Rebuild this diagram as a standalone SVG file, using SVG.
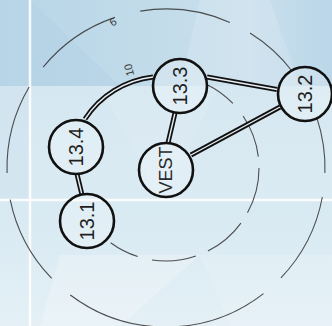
<svg xmlns="http://www.w3.org/2000/svg" width="332" height="326" viewBox="0 0 332 326">
<defs>
<linearGradient id="topband" x1="0" y1="0" x2="1" y2="0">
<stop offset="0" stop-color="#b7d5e7"/>
<stop offset="0.5" stop-color="#c3dcea"/>
<stop offset="0.75" stop-color="#cbe1ed"/>
<stop offset="1" stop-color="#bad6e8"/>
</linearGradient>
<linearGradient id="midband" x1="0" y1="0" x2="0" y2="1">
<stop offset="0" stop-color="#d5e7f1"/>
<stop offset="1" stop-color="#dbebf3"/>
</linearGradient>
<linearGradient id="lowband" x1="0" y1="0" x2="0" y2="1">
<stop offset="0" stop-color="#d7e9f2"/>
<stop offset="1" stop-color="#e4f0f6"/>
</linearGradient>
<style>
.ring{fill:none;stroke:#333;stroke-width:1.1;opacity:0.85}
.road-o{fill:none;stroke:#111;stroke-width:5;stroke-linecap:butt}
.road-i{fill:none;stroke:#e6eef3;stroke-width:1.4;stroke-linecap:butt}
.node circle{fill:#ffffff;fill-opacity:0.22;stroke:#111;stroke-width:2.6}
.node text{font-family:"Liberation Sans",Arial,sans-serif;font-size:20px;fill:#1e1e1e;text-anchor:middle}
.lbl{font-family:"Liberation Sans",Arial,sans-serif;font-size:11px;fill:#3a3a3a;text-anchor:middle}
</style>
</defs>
<g id="background">
<rect x="0" y="0" width="332" height="326" fill="#d8e9f2"/>
<rect x="0" y="0" width="332" height="86" fill="url(#topband)"/>
<rect x="0" y="86" width="332" height="114" fill="url(#midband)"/>
<rect x="0" y="200" width="332" height="126" fill="url(#lowband)"/>
<polygon points="30,0 30,86 120,86" fill="#b4d2e5" opacity="0.5"/>
<polygon points="200,0 270,0 300,86 180,86" fill="#ffffff" opacity="0.12"/>
<polygon points="0,86 30,86 30,200 0,200" fill="#cfe3ef" opacity="0.6"/>
<polygon points="100,86 220,86 160,200" fill="#ffffff" opacity="0.1"/>
<polygon points="60,255 200,255 120,326 40,326" fill="#ffffff" opacity="0.22"/>
<polygon points="200,255 332,255 332,326 230,326" fill="#ffffff" opacity="0.12"/>
<line x1="30" y1="0" x2="30" y2="326" stroke="#ffffff" stroke-width="2.5" opacity="0.9"/>
<line x1="0" y1="200" x2="332" y2="200" stroke="#ffffff" stroke-width="2.5" opacity="0.9"/>
</g>
<g id="rings">
<path class="ring" d="M7.08,172.99 A159,159 0 0 1 29.14,87.06"/>
<path class="ring" d="M43.16,67.06 A159,159 0 0 1 115.02,17.39"/>
<path class="ring" d="M140.31,11.09 A159,159 0 0 1 229.91,22.41"/>
<path class="ring" d="M250.02,33.01 A159,159 0 0 1 292.14,71.21"/>
<path class="ring" d="M316.78,117.55 A159,159 0 0 1 324.92,172.99"/>
<path class="ring" d="M322.34,196.98 A159,159 0 0 1 280.95,277.85"/>
<path class="ring" d="M263.49,293.61 A159,159 0 0 1 70.31,294.98"/>
<path class="ring" d="M51.63,278.45 A159,159 0 0 1 10.19,199.70"/>
<path class="ring" d="M206.77,84.41 A93,93 0 0 1 232.90,103.40"/>
<path class="ring" d="M243.10,116.00 A93,93 0 0 1 258.31,156.67"/>
<path class="ring" d="M259,168 A93,93 0 0 1 247.50,212.80"/>
<path class="ring" d="M240.95,223.06 A93,93 0 0 1 207.93,251.01"/>
<path class="ring" d="M195.97,256.04 A93,93 0 0 1 151.93,259.93"/>
<path class="ring" d="M137.73,256.60 A93,93 0 0 1 110.68,242.76"/>
<text class="lbl" x="113" y="22" dy="0.35em" transform="rotate(-30 113 22)">6</text>
<text class="lbl" x="129" y="70" dy="0.35em" transform="rotate(-105 129 70)">10</text>
</g>
<g id="connectors">
<path class="road-o" d="M207,77 L277,89.5"/>
<path class="road-i" d="M207,77 L277,89.5"/>
<path class="road-o" d="M191,155 L280,107"/>
<path class="road-i" d="M191,155 L280,107"/>
<path class="road-o" d="M175,113 L168,143"/>
<path class="road-i" d="M175,113 L168,143"/>
<path class="road-o" d="M77,174 L82,195"/>
<path class="road-i" d="M77,174 L82,195"/>
<path class="road-o" d="M85,119 A94,94 0 0 1 153,77"/>
<path class="road-i" d="M85,119 A94,94 0 0 1 153,77"/>
</g>
<g id="node-13-3" class="node">
<circle cx="180" cy="86" r="27"/>
<text x="180" y="86" dy="0.36em" transform="rotate(-90 180 86)">13.3</text>
</g>
<g id="node-13-2" class="node">
<circle cx="305" cy="94" r="27"/>
<text x="305" y="94" dy="0.36em" transform="rotate(-90 305 94)">13.2</text>
</g>
<g id="node-13-4" class="node">
<circle cx="76" cy="147" r="27"/>
<text x="76" y="147" dy="0.36em" transform="rotate(-90 76 147)">13.4</text>
</g>
<g id="node-vest" class="node">
<circle cx="166" cy="170" r="27"/>
<text x="166" y="170" dy="0.36em" transform="rotate(-90 166 170)" style="font-size:18px;fill:#2a2a2a">VEST</text>
</g>
<g id="node-13-1" class="node">
<circle cx="87" cy="221" r="27"/>
<text x="87" y="221" dy="0.36em" transform="rotate(-90 87 221)">13.1</text>
</g>
</svg>
